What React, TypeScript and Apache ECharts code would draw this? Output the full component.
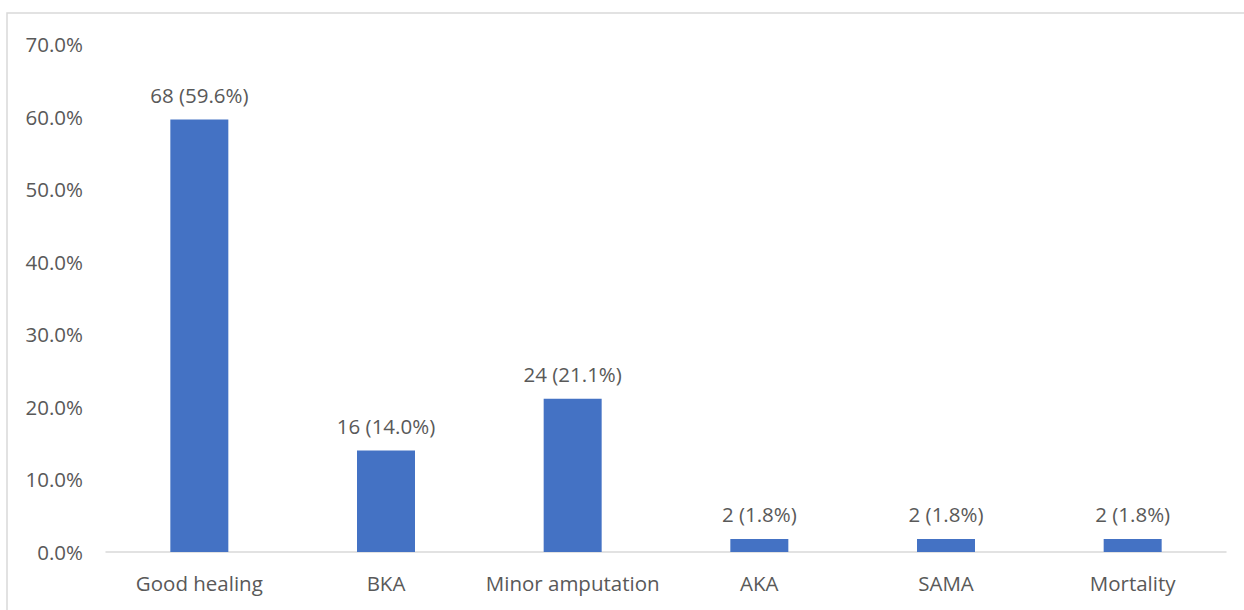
import React, { useEffect, useRef } from "react";
import * as echarts from "echarts";

const categories = ["Good healing", "BKA", "Minor amputation", "AKA", "SAMA", "Mortality"];
const counts = [68, 16, 24, 2, 2, 2];
const percents = [59.6, 14.0, 21.1, 1.8, 1.8, 1.8];

const FONT = "'Open Sans', sans-serif";
const TEXT = "#595959";
const SIZE = 20.5;

export default function App() {
  const ref = useRef<HTMLDivElement>(null);

  useEffect(() => {
    if (!ref.current) return;
    const chart = echarts.init(ref.current, undefined, { renderer: "svg" });
    chart.setOption({
      animation: false,
      backgroundColor: "#ffffff",
      textStyle: { fontFamily: FONT },
      graphic: [
        {
          type: "rect",
          shape: { x: 7, y: 13, width: 1400, height: 800 },
          style: { fill: "none", stroke: "#d9d9d9", lineWidth: 1.5 },
          silent: true,
          z: -10,
        },
      ],
      grid: { left: 106, right: 18, top: 44, bottom: 58 },
      xAxis: {
        type: "category",
        data: categories,
        axisLine: { lineStyle: { color: "#d9d9d9", width: 1.5 } },
        axisTick: { show: false },
        axisLabel: { color: TEXT, fontSize: SIZE, fontFamily: FONT, margin: 20, interval: 0 },
      },
      yAxis: {
        type: "value",
        min: 0,
        max: 70,
        interval: 10,
        splitLine: { show: false },
        axisLine: { show: false },
        axisTick: { show: false },
        axisLabel: {
          color: TEXT,
          fontSize: SIZE,
          fontFamily: FONT,
          margin: 23,
          formatter: (v: number) => v.toFixed(1) + "%",
        },
      },
      series: [
        {
          type: "bar",
          data: percents,
          barWidth: 58,
          itemStyle: { color: "#4472C4" },
          label: {
            show: true,
            position: "top",
            distance: 14,
            color: TEXT,
            fontSize: SIZE,
            fontFamily: FONT,
            formatter: (p: any) => `${counts[p.dataIndex]} (${percents[p.dataIndex].toFixed(1)}%)`,
          },
        },
      ],
    });
    return () => chart.dispose();
  }, []);

  return (
    <div
      ref={ref}
      style={{ position: "fixed", left: 0, top: 0, width: 1244, height: 610 }}
    />
  );
}
